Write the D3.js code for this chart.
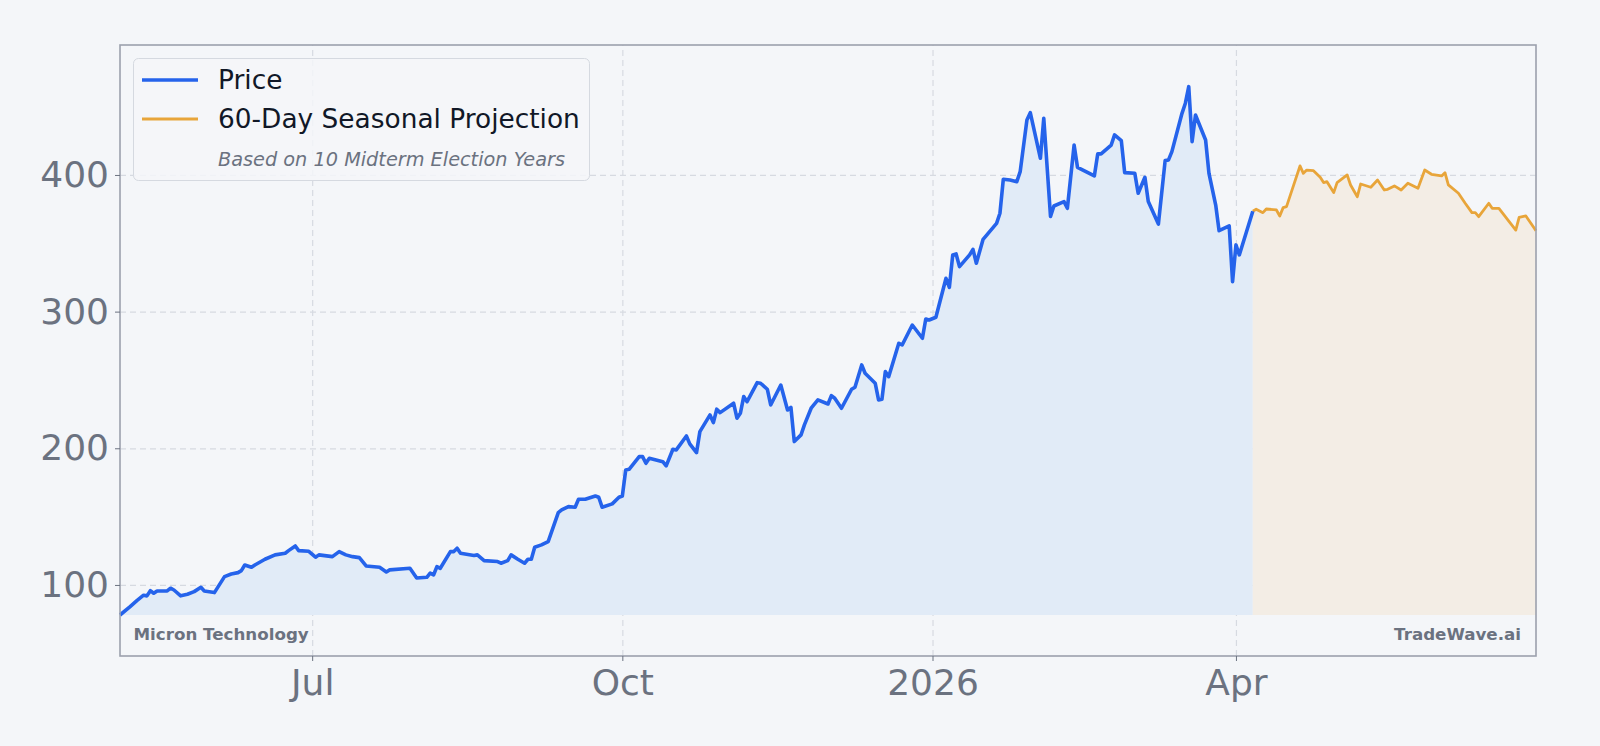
<!DOCTYPE html>
<html>
<head>
<meta charset="utf-8">
<script src="https://cdn.jsdelivr.net/npm/d3@7"></script>
<style>
  body { margin: 0; background: #f4f6f9; }
  svg { display: block; font-family: "DejaVu Sans", sans-serif; }
</style>
</head>
<body>
<script>
// price history
const priceDates = [
  "2025-05-05","2025-05-08","2025-05-10","2025-05-12","2025-05-13","2025-05-14","2025-05-15","2025-05-16",
  "2025-05-19","2025-05-20","2025-05-21","2025-05-23","2025-05-25","2025-05-27","2025-05-29","2025-05-30",
  "2025-06-02","2025-06-05","2025-06-07","2025-06-09","2025-06-10","2025-06-11","2025-06-13","2025-06-14",
  "2025-06-17","2025-06-20","2025-06-23","2025-06-24","2025-06-26","2025-06-27","2025-06-30","2025-07-02",
  "2025-07-03","2025-07-07","2025-07-09","2025-07-11","2025-07-13","2025-07-15","2025-07-17","2025-07-21",
  "2025-07-23","2025-07-24","2025-07-30","2025-08-01","2025-08-04","2025-08-05","2025-08-06","2025-08-07",
  "2025-08-08","2025-08-11","2025-08-12","2025-08-13","2025-08-14","2025-08-18","2025-08-19","2025-08-21",
  "2025-08-25","2025-08-26","2025-08-28","2025-08-29","2025-08-31","2025-09-02","2025-09-03","2025-09-04",
  "2025-09-05","2025-09-07","2025-09-09","2025-09-12","2025-09-13","2025-09-15","2025-09-17","2025-09-18",
  "2025-09-20","2025-09-23","2025-09-24","2025-09-25","2025-09-28","2025-09-30","2025-10-01","2025-10-02",
  "2025-10-03","2025-10-06","2025-10-07","2025-10-08","2025-10-09","2025-10-13","2025-10-14","2025-10-16",
  "2025-10-17","2025-10-20","2025-10-21","2025-10-23","2025-10-24","2025-10-27","2025-10-28","2025-10-29",
  "2025-10-30","2025-11-03","2025-11-04","2025-11-05","2025-11-06","2025-11-07","2025-11-10","2025-11-11",
  "2025-11-13","2025-11-14","2025-11-17","2025-11-19","2025-11-20","2025-11-21","2025-11-23","2025-11-24",
  "2025-11-26","2025-11-28","2025-12-01","2025-12-02","2025-12-03","2025-12-05","2025-12-08","2025-12-09",
  "2025-12-11","2025-12-12","2025-12-15","2025-12-16","2025-12-17","2025-12-18","2025-12-19","2025-12-22",
  "2025-12-23","2025-12-26","2025-12-29","2025-12-30","2025-12-31","2026-01-02","2026-01-05","2026-01-06",
  "2026-01-07","2026-01-08","2026-01-09","2026-01-12","2026-01-13","2026-01-14","2026-01-16","2026-01-20",
  "2026-01-21","2026-01-22","2026-01-24","2026-01-26","2026-01-27","2026-01-29","2026-01-30","2026-02-02",
  "2026-02-03","2026-02-05","2026-02-06","2026-02-09","2026-02-10","2026-02-12","2026-02-13","2026-02-18",
  "2026-02-19","2026-02-20","2026-02-23","2026-02-24","2026-02-26","2026-02-27","2026-03-02","2026-03-03",
  "2026-03-05","2026-03-06","2026-03-09","2026-03-11","2026-03-12","2026-03-13","2026-03-16","2026-03-17",
  "2026-03-18","2026-03-19","2026-03-20","2026-03-23","2026-03-24","2026-03-26","2026-03-27","2026-03-30",
  "2026-03-31","2026-04-01","2026-04-02","2026-04-06"
];
const priceValues = [
  78, 84.1, 88.5, 92.5, 92, 95.8, 93.9, 95.6,
  95.6, 97.6, 96.3, 92, 93.2, 95.1, 98.3, 95.6,
  94.4, 106.1, 108, 109, 110.5, 114.6, 112.9, 114.6,
  118.8, 122, 123.2, 125.1, 128.5, 125.1, 124.6, 120.3,
  122, 120.7, 124.4, 122, 120.7, 120, 113.9, 112.9,
  109.5, 111, 112.2, 105.1, 105.6, 108.6, 107.3, 113.4,
  112.2, 124.4, 124.4, 126.9, 123.2, 121.5, 122, 117.8,
  117.1, 115.9, 117.8, 122, 118.8, 115.9, 118.8, 118.8,
  127.6, 129.3, 131.7, 152.9, 154.9, 157.3, 156.9, 162.7,
  162.7, 165.1, 164.2, 156.9, 159.3, 164.2, 165.1, 184.1,
  184.6, 193.9, 193.9, 189, 192.7, 190.2, 187.1, 199.3,
  198.8, 209, 203.2, 196.8, 212.2, 224.4, 218.8, 228.6,
  226.1, 233, 222, 225.6, 237.8, 234.1, 248, 247.6,
  243.2, 231.7, 246.3, 228, 230, 204.9, 209.8, 217.1,
  229.3, 235.4, 232.4, 238.5, 236.6, 229.3, 243.2, 244.7,
  261, 254.9, 247.6, 235.4, 235.9, 256.1, 252.4, 276.8,
  275.6, 290.2, 280.5, 294.6, 293.9, 295.9, 324.4, 317.8,
  341.5, 342.2, 332.9, 341.5, 345.6, 335.4, 352.9, 364.6,
  372, 396.9, 396.3, 395.1, 402.4, 440.2, 445.6, 412.2,
  441.5, 369.7, 377.3, 380.5, 375.6, 421.9, 405.6, 399.3,
  415.4, 415.4, 421.9, 429.3, 425.1, 401.7, 401.2, 386.6,
  398.3, 380.5, 364.1, 410.5, 411, 417.1, 445.1, 452.5,
  464.6, 424.4, 443.9, 425.6, 401.2, 378, 359.2, 362.7,
  321.9, 348.8, 341.5, 373.5
];

// 60-day seasonal projection
const projDates = [
  "2026-04-06","2026-04-07","2026-04-09","2026-04-10","2026-04-13","2026-04-14","2026-04-15","2026-04-16",
  "2026-04-20","2026-04-21","2026-04-22","2026-04-24","2026-04-26","2026-04-27","2026-04-28","2026-04-30",
  "2026-05-01","2026-05-04","2026-05-05","2026-05-07","2026-05-08","2026-05-11","2026-05-13","2026-05-15",
  "2026-05-16","2026-05-18","2026-05-20","2026-05-22","2026-05-25","2026-05-27","2026-05-29","2026-06-01",
  "2026-06-02","2026-06-03","2026-06-06","2026-06-08","2026-06-10","2026-06-11","2026-06-12","2026-06-15",
  "2026-06-16","2026-06-18","2026-06-23","2026-06-24","2026-06-26","2026-06-29"
];
const projValues = [
  373.5, 374.9, 372.4, 375.1, 374.4, 370, 376.1, 376.8,
  406.6, 401.2, 403.6, 403.1, 398.3, 394.4, 395.1, 387.1,
  394.4, 400, 392.7, 384.1, 393.4, 391, 396.3, 389,
  389.5, 392, 389, 393.9, 390.3, 403.6, 400.5, 399.3,
  401.7, 392.7, 386.6, 379.3, 372.4, 372.4, 369.5, 379.3,
  375.6, 375.6, 359.7, 369, 370, 359.2
];

const yTicks = [100, 200, 300, 400];
const xTickDates = ["2025-07-01", "2025-10-01", "2026-01-01", "2026-04-01"];
const xTickLabels = ["Jul", "Oct", "2026", "Apr"];

const parse = d3.utcParse("%Y-%m-%d");
const price = priceDates.map((d, i) => ({ date: parse(d), value: priceValues[i] }));
const proj = projDates.map((d, i) => ({ date: parse(d), value: projValues[i] }));

// dimensions
const W = 1600, H = 746;
const plotL = 120, plotT = 45, plotR = 1536, plotB = 656;

const svg = d3.select("body").append("svg")
  .attr("width", W)
  .attr("height", H);

svg.append("rect").attr("width", W).attr("height", H).attr("fill", "#f4f6f9");

const x = d3.scaleUtc()
  .domain([parse("2025-05-05"), parse("2026-06-29")])
  .range([plotL, plotR]);

const y = d3.scaleLinear()
  .domain([48, 495.1])
  .range([plotB, plotT]);

const baseVal = d3.min(priceValues);

// grid
const grid = svg.append("g");
grid.append("g")
  .attr("transform", `translate(${plotL},0)`)
  .call(d3.axisLeft(y).tickValues(yTicks).tickSize(-(plotR - plotL)).tickFormat(""))
  .call(g => g.select(".domain").remove());
grid.append("g")
  .attr("transform", `translate(0,${plotB})`)
  .call(d3.axisBottom(x).tickValues(xTickDates.map(parse)).tickSize(-(plotB - plotT)).tickFormat(""))
  .call(g => g.select(".domain").remove());
grid.selectAll("line")
  .attr("stroke", "#d6dae1")
  .attr("stroke-width", 1.2)
  .attr("stroke-dasharray", "6,4");

// fills
const area = d3.area()
  .x(d => x(d.date))
  .y0(y(baseVal))
  .y1(d => y(d.value));

svg.append("path")
  .datum(price)
  .attr("fill", "#e1ebf7")
  .attr("d", area);

svg.append("path")
  .datum(proj)
  .attr("fill", "#f3ede5")
  .attr("d", area);

// lines
const line = d3.line()
  .x(d => x(d.date))
  .y(d => y(d.value));

svg.append("path")
  .datum(proj)
  .attr("fill", "none")
  .attr("stroke", "#e8a53a")
  .attr("stroke-width", 2.8)
  .attr("stroke-linejoin", "round")
  .attr("d", line);

svg.append("path")
  .datum(price)
  .attr("fill", "none")
  .attr("stroke", "#2563eb")
  .attr("stroke-width", 3.6)
  .attr("stroke-linejoin", "round")
  .attr("d", line);

// frame
svg.append("rect")
  .attr("x", plotL).attr("y", plotT)
  .attr("width", plotR - plotL).attr("height", plotB - plotT)
  .attr("fill", "none")
  .attr("stroke", "#9ca1ad")
  .attr("stroke-width", 1.6);

// axes
const yAxis = svg.append("g")
  .attr("transform", `translate(${plotL},0)`)
  .call(d3.axisLeft(y).tickValues(yTicks).tickSize(5).tickPadding(6).tickFormat(d3.format("d")));
const xAxis = svg.append("g")
  .attr("transform", `translate(0,${plotB})`)
  .call(d3.axisBottom(x).tickValues(xTickDates.map(parse)).tickSize(5).tickPadding(8)
    .tickFormat((d, i) => xTickLabels[i]));

[yAxis, xAxis].forEach(a => {
  a.select(".domain").remove();
  a.selectAll("line").attr("stroke", "#6b7280");
  a.selectAll("text")
    .attr("fill", "#6b7280")
    .style("font-size", "36px")
    .style("font-family", "DejaVu Sans");
});

// corner labels
svg.append("text")
  .attr("x", 133.5).attr("y", 634).attr("dy", "0.35em")
  .attr("fill", "#6b7280")
  .style("font-size", "16.7px").style("font-weight", "bold")
  .text("Micron Technology");

svg.append("text")
  .attr("x", 1521).attr("y", 634).attr("dy", "0.35em")
  .attr("text-anchor", "end")
  .attr("fill", "#6b7280")
  .style("font-size", "16.7px").style("font-weight", "bold")
  .text("TradeWave.ai");

// legend
const legend = svg.append("g");
legend.append("rect")
  .attr("x", 133.5).attr("y", 58.5)
  .attr("width", 456).attr("height", 122)
  .attr("rx", 5)
  .attr("fill", "#f4f6f9").attr("fill-opacity", 0.85)
  .attr("stroke", "#d5d9e0");

legend.append("line")
  .attr("x1", 142).attr("x2", 198).attr("y1", 80).attr("y2", 80)
  .attr("stroke", "#2563eb").attr("stroke-width", 3.6);
legend.append("line")
  .attr("x1", 142).attr("x2", 198).attr("y1", 119).attr("y2", 119)
  .attr("stroke", "#e8a53a").attr("stroke-width", 2.8);

legend.append("text")
  .attr("x", 218).attr("y", 80).attr("dy", "0.35em")
  .attr("fill", "#111827").style("font-size", "26.4px")
  .text("Price");
legend.append("text")
  .attr("x", 218).attr("y", 119).attr("dy", "0.35em")
  .attr("fill", "#111827").style("font-size", "26.4px")
  .text("60-Day Seasonal Projection");
legend.append("text")
  .attr("x", 218).attr("y", 159).attr("dy", "0.35em")
  .attr("fill", "#6b7280").style("font-size", "19.3px").style("font-style", "italic")
  .text("Based on 10 Midterm Election Years");
</script>
</body>
</html>
